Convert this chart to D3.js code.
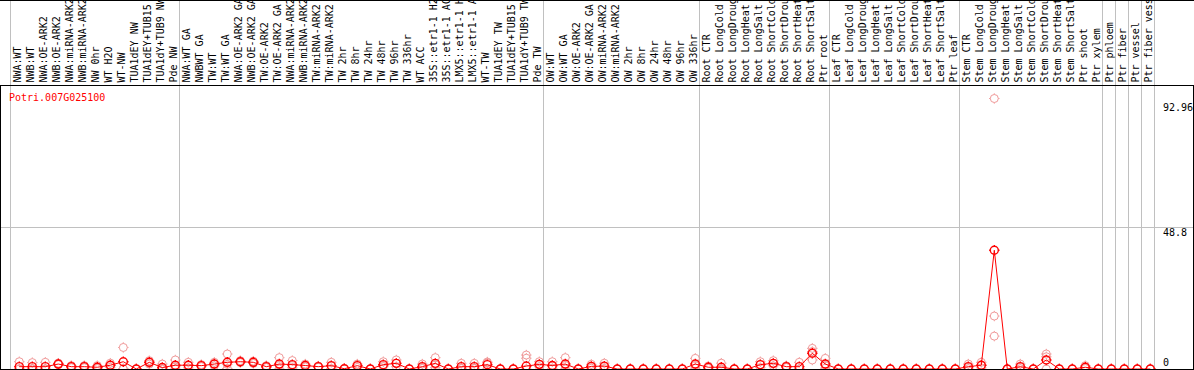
<!DOCTYPE html>
<html>
<head>
<meta charset="utf-8">
<script src="https://cdn.jsdelivr.net/npm/d3@7"></script>
<style>
  body { margin: 0; background: #fff; }
  svg { display: block; }
  text { font-family: "DejaVu Sans Mono", monospace; font-size: 10px; }
</style>
</head>
<body>
<svg id="chart" width="1194" height="370"></svg>
<script>
// sample names, left to right
let samples = [
  "NWA:WT", "NWB:WT", "NWA:OE-ARK2", "NWB:OE-ARK2", "NWA:miRNA-ARK2", "NWB:miRNA-ARK2",
  "NW 0hr", "WT H2O", "WT-NW", "TUA1dEY NW", "TUA1dEY+TUB15 NW", "TUA1dY+TUB9 NW", "Pde NW",
  "NWA:WT GA", "NWBWT GA", "TW:WT", "TW:WT GA", "NWA:OE-ARK2 GA", "NWB:OE-ARK2 GA",
  "TW:OE-ARK2", "TW:OE-ARK2 GA", "NWA:miRNA-ARK2 GA", "NWB:miRNA-ARK2 GA", "TW:miRNA-ARK2",
  "TW:miRNA-ARK2 GA", "TW 2hr", "TW 8hr", "TW 24hr", "TW 48hr", "TW 96hr", "TW 336hr", "WT ACC",
  "35S::etr1-1 H2O", "35S::etr1-1 ACC", "LMX5::etr1-1 H2O", "LMX5::etr1-1 ACC", "WT-TW",
  "TUA1dEY TW", "TUA1dEY+TUB15 TW", "TUA1dY+TUB9 TW", "Pde TW",
  "OW:WT", "OW:WT GA", "OW:OE-ARK2", "OW:OE-ARK2 GA", "OW:miRNA-ARK2", "OW:miRNA-ARK2 GA",
  "OW 2hr", "OW 8hr", "OW 24hr", "OW 48hr", "OW 96hr", "OW 336hr",
  "Root CTR", "Root LongCold", "Root LongDrought", "Root LongHeat", "Root LongSalt",
  "Root ShortCold", "Root ShortDrought", "Root ShortHeat", "Root ShortSalt", "Ptr root",
  "Leaf CTR", "Leaf LongCold", "Leaf LongDrought", "Leaf LongHeat", "Leaf LongSalt",
  "Leaf ShortCold", "Leaf ShortDrought", "Leaf ShortHeat", "Leaf ShortSalt", "Ptr leaf",
  "Stem CTR", "Stem LongCold", "Stem LongDrought", "Stem LongHeat", "Stem LongSalt",
  "Stem ShortCold", "Stem ShortDrought", "Stem ShortHeat", "Stem ShortSalt", "Ptr shoot",
  "Ptr xylem", "Ptr phloem", "Ptr fiber", "Ptr vessel", "Ptr fiber vessel"
];

// index where each group starts (last one closes the table)
let groupBreaks = [0, 13, 41, 53, 63, 73, 84, 85, 86, 87, 88];

// dark circles joined by the line
let means = [
  0.8, 0.8, 0.8, 1.7, 0.8, 0.8, 0.6, 1.3, 2.5, 0, 2.3, 0.5, 1.3,
  1.3, 1.15, 1.7, 2.3, 2.5, 2.3, 0.8, 1.7, 1.5, 1.2, 0.8, 1.15, 0.1, 1.15, 0, 1.5, 1.95,
  0, 0.8, 1.95, 0, 0.8, 0.8, 1.5, 0, 0, 1.0, 1.6,
  1.2, 1.7, 0, 0.9, 1.0, 0, 0, 0, 0, 0, 0, 1.7,
  0.6, 0.6, 0, 0, 1.5, 1.95, 0.8, 0.8, 5.4, 1.7,
  0, 0, 0, 0, 0, 0, 0, 0, 0, 0,
  0.8, 1.3, 40.8, 0, 0.8, 0, 3.1, 0, 0, 0.6,
  0, 0, 0, 0, 0
];

// light circles, one list per sample
let replicates = [
  [2.5, 0, 0], [2.2, 0.2, 0], [2.3, 0.1, 0], [2.0, 1.6, 1.5], [1.15, 0.8, 0.45], [1.15, 0.8, 0.45],
  [1.15, 0.5, 0.15], [2.0, 1.3, 0.6], [7.4, 0.1, 0], [0, 0, 0], [2.86, 2.3, 1.7], [1.7, 0, 0],
  [3.1, 0.8, 0],
  [2.3, 1.2, 0.4], [1.5, 1.2, 0.8], [2.3, 1.7, 1.1], [5.15, 1.6, 0.2], [2.86, 2.5, 2.2],
  [2.7, 2.3, 1.9], [1.15, 0.8, 0.5], [3.9, 1.2, 0], [2.9, 1.2, 0.4], [1.7, 1.2, 0.7],
  [1.0, 0.8, 0.6], [2.3, 1.0, 0.15], [0.2, 0.1, 0], [1.7, 1.2, 0.55], [0, 0, 0],
  [2.5, 1.2, 0.8], [3.1, 2.0, 0.8], [0, 0, 0], [1.7, 0.5, 0.2], [3.9, 1.5, 0.45], [0, 0, 0],
  [1.95, 0.3, 0.15], [1.95, 0.3, 0.15], [2.4, 2.1, 0], [0, 0, 0], [0, 0, 0],
  [4.8, 3.7, 0], [2.5, 1.5, 0.8],
  [2.5, 1.0, 0.2], [3.9, 1.2, 0], [0, 0, 0], [1.6, 0.8, 0.3], [2.0, 0.8, 0.2], [0, 0, 0],
  [0, 0, 0], [0, 0, 0], [0, 0, 0], [0, 0, 0], [0, 0, 0], [3.66, 1.2, 0.3],
  [1.0, 0.6, 0.2], [2.0, 0, 0], [0, 0, 0], [0, 0, 0], [2.5, 1.5, 0.5], [2.86, 1.9, 1.1],
  [1.1, 0.8, 0.5], [2.3, 0.1, 0], [7.1, 6.0, 3.1], [3.66, 1.2, 0.3],
  [0, 0, 0], [0, 0, 0], [0, 0, 0], [0, 0, 0], [0, 0, 0], [0, 0, 0], [0, 0, 0], [0, 0, 0],
  [0, 0, 0], [0, 0, 0],
  [1.7, 0.6, 0.1], [2.3, 1.2, 0.4], [92.96, 18.2, 11.3], [0, 0, 0], [1.7, 0.6, 0.1], [0, 0, 0],
  [5.15, 4.2, 0], [0, 0, 0], [0, 0, 0], [1.15, 0.5, 0.15],
  [0, 0, 0], [0, 0, 0], [0, 0, 0], [0, 0, 0], [0, 0, 0]
];

let geneId = "Potri.007G025100";
let maxLabel = "92.96";
let midLabel = "48.8";
let midValue = 48.8;
let topValue = 97.6;

let width = 1194, height = 370;
let headerH = 85, plotBottom = 369;
let left = 11, colW = 13;
let maxChars = 14; // header only has room for this many

let svg = d3.select("#chart");

let x = d3.scaleBand()
  .domain(d3.range(samples.length))
  .range([left, left + colW * samples.length])
  .paddingInner(0).paddingOuter(0);
let y = d3.scaleLinear().domain([0, topValue]).range([plotBottom, headerH]);

let cx = (i) => x(i) + 8.3;

// grid
let grid = svg.append("g").attr("stroke", "#c0c0c0").attr("stroke-width", 1);
groupBreaks.forEach((b) => {
  let gx = Math.round(left + colW * b) - 0.5;
  grid.append("line").attr("x1", gx).attr("x2", gx).attr("y1", 0).attr("y2", plotBottom);
});
grid.append("line")
  .attr("x1", 0).attr("x2", width)
  .attr("y1", Math.round(y(midValue)) + 0.5).attr("y2", Math.round(y(midValue)) + 0.5);

// header labels, rotated
svg.append("g").selectAll("text").data(samples).enter().append("text")
  .attr("transform", (d, i) => `translate(${x(i) + 10},${headerH - 2.5}) rotate(-90)`)
  .attr("fill", "#000")
  .text((d) => d.slice(0, maxChars));

// frame
let frame = svg.append("g").attr("stroke", "#000").attr("fill", "none");
frame.append("line").attr("x1", 0).attr("x2", width).attr("y1", 0.5).attr("y2", 0.5);
frame.append("rect")
  .attr("x", 0.5).attr("y", headerH + 0.5)
  .attr("width", width - 1).attr("height", plotBottom - headerH);

// plot area clip so circles on zero get cut at the frame
svg.append("defs").append("clipPath").attr("id", "plotClip")
  .append("rect").attr("x", 1).attr("y", headerH + 1)
  .attr("width", width - 2).attr("height", plotBottom - headerH - 1);

let plot = svg.append("g").attr("clip-path", "url(#plotClip)");

let marker = (r, t) => `M${-r},0a${r},${r} 0 1,0 ${2 * r},0a${r},${r} 0 1,0 ${-2 * r},0` +
  `M0,${-r}v${-t}M0,${r}v${t}M${-r},0h${-t}M${r},0h${t}`;

// replicate points
let repPts = [];
replicates.forEach((reps, i) => reps.forEach((v) => repPts.push({i, v})));
plot.append("g").selectAll("path").data(repPts).enter().append("path")
  .attr("d", marker(4, 1.2))
  .attr("transform", (d) => `translate(${cx(d.i)},${y(d.v)})`)
  .attr("fill", "none").attr("stroke", "#f09a9a").attr("stroke-width", 1);

// mean line
let line = d3.line().x((d, i) => cx(i)).y((d) => y(d));
plot.append("path").datum(means)
  .attr("d", line)
  .attr("fill", "none").attr("stroke", "#ff0000").attr("stroke-width", 1);

plot.append("g").selectAll("path").data(means).enter().append("path")
  .attr("d", marker(4, 1.2))
  .attr("transform", (d, i) => `translate(${cx(i)},${y(d)})`)
  .attr("fill", "none").attr("stroke", "#ff0000").attr("stroke-width", 1.4);

// texts
svg.append("text").attr("x", 9).attr("y", 101).attr("fill", "#ff0000").text(geneId);
let valueLabels = svg.append("g").attr("fill", "#000");
valueLabels.append("text").attr("x", 1163).attr("y", 110.5).text(maxLabel);
valueLabels.append("text").attr("x", 1163).attr("y", Math.round(y(midValue)) + 9).text(midLabel);
valueLabels.append("text").attr("x", 1163).attr("y", 366).text("0");
</script>
</body>
</html>
